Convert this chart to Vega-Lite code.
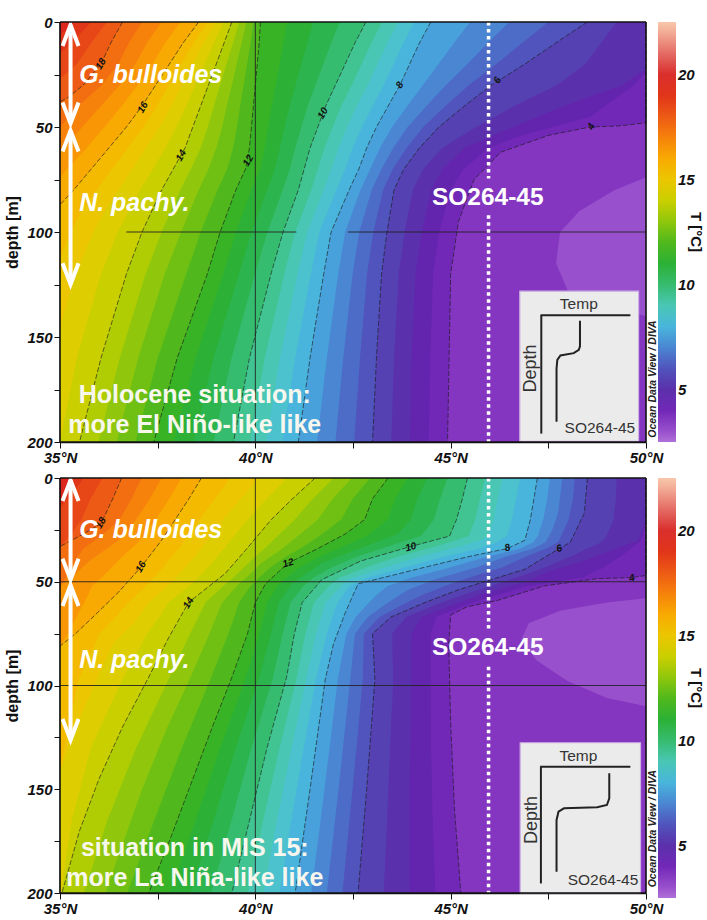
{
"$schema":"https://vega.github.io/schema/vega-lite/v6.json",
"padding":{"left":4,"top":15,"right":0,"bottom":0},
"spacing":6,
"background":"white",
"config":{"font":"Liberation Sans","view":{"stroke":null},
"axis":{"domainColor":"#111","domainWidth":1.5,"tickColor":"#111","tickSize":6,"labelFontSize":15,"labelFontWeight":"bold","labelFontStyle":"italic","labelColor":"#111","titleFontSize":16,"titleFontWeight":"bold","titleColor":"#111","grid":false,"labelPadding":2,"titlePadding":6},
"legend":{"type":"gradient","direction":"vertical","orient":"right","offset":10,"padding":0,"gradientLength":420,"gradientThickness":18,"gradientStrokeWidth":0,"titleOrient":"right","titleAngle":270,"titleAnchor":"middle","titlePadding":-7,"titleFontSize":15,"titleFontWeight":"bold","titleColor":"#111","labelFontSize":15,"labelFontWeight":"bold","labelFontStyle":"italic","labelColor":"#111","labelOffset":4,"labelOverlap":false}},
"resolve":{"scale":{"color":"independent"},"legend":{"color":"independent"}},
"datasets":{
"isoH":[
{"T":3,"d":0,"x":50},{"T":3,"d":200,"x":50},
{"T":3.5,"d":0,"x":50},{"T":3.5,"d":74,"x":50},{"T":3.5,"d":80,"x":49.2},{"T":3.5,"d":90,"x":48.3},{"T":3.5,"d":100,"x":47.8},{"T":3.5,"d":115,"x":47.7},{"T":3.5,"d":128,"x":48},{"T":3.5,"d":135,"x":48.8},{"T":3.5,"d":140,"x":50},{"T":3.5,"d":200,"x":50},
{"T":4,"d":0,"x":50},{"T":4,"d":48,"x":50},{"T":4,"d":49.5,"x":49.3},{"T":4,"d":50,"x":48.57},{"T":4,"d":54,"x":47.5},{"T":4,"d":62,"x":46.28},{"T":4,"d":75,"x":45.6},{"T":4,"d":95,"x":45.2},{"T":4,"d":120,"x":45},{"T":4,"d":200,"x":44.92},
{"T":4.5,"d":0,"x":50},{"T":4.5,"d":24,"x":50},{"T":4.5,"d":30,"x":49.7},{"T":4.5,"d":40,"x":48.95},{"T":4.5,"d":45,"x":48.6},{"T":4.5,"d":50,"x":47.6},{"T":4.5,"d":55,"x":46.66},{"T":4.5,"d":60,"x":45.97},{"T":4.5,"d":70,"x":45.33},{"T":4.5,"d":80,"x":45},{"T":4.5,"d":100,"x":44.71},{"T":4.5,"d":120,"x":44.55},{"T":4.5,"d":160,"x":44.48},{"T":4.5,"d":200,"x":44.44},
{"T":5,"d":0,"x":50},{"T":5,"d":22,"x":50},{"T":5,"d":30,"x":49.4},{"T":5,"d":40,"x":47.9},{"T":5,"d":50,"x":46.6},{"T":5,"d":60,"x":45.35},{"T":5,"d":70,"x":44.8},{"T":5,"d":80,"x":44.5},{"T":5,"d":100,"x":44.26},{"T":5,"d":120,"x":44.1},{"T":5,"d":160,"x":44},{"T":5,"d":200,"x":43.96},
{"T":5.5,"d":0,"x":49.25},{"T":5.5,"d":10,"x":48.85},{"T":5.5,"d":20,"x":48.45},{"T":5.5,"d":30,"x":47.73},{"T":5.5,"d":40,"x":46.63},{"T":5.5,"d":50,"x":45.65},{"T":5.5,"d":60,"x":44.78},{"T":5.5,"d":70,"x":44.3},{"T":5.5,"d":80,"x":44.03},{"T":5.5,"d":100,"x":43.82},{"T":5.5,"d":120,"x":43.67},{"T":5.5,"d":160,"x":43.55},{"T":5.5,"d":200,"x":43.48},
{"T":6,"d":0,"x":48.5},{"T":6,"d":7,"x":47.93},{"T":6,"d":20,"x":46.9},{"T":6,"d":30,"x":46.05},{"T":6,"d":40,"x":45.35},{"T":6,"d":50,"x":44.7},{"T":6,"d":60,"x":44.2},{"T":6,"d":70,"x":43.8},{"T":6,"d":80,"x":43.55},{"T":6,"d":100,"x":43.37},{"T":6,"d":120,"x":43.23},{"T":6,"d":160,"x":43.1},{"T":6,"d":200,"x":43},
{"T":6.5,"d":0,"x":47.5},{"T":6.5,"d":10,"x":46.83},{"T":6.5,"d":20,"x":46.17},{"T":6.5,"d":30,"x":45.47},{"T":6.5,"d":40,"x":44.87},{"T":6.5,"d":50,"x":44.3},{"T":6.5,"d":60,"x":43.87},{"T":6.5,"d":70,"x":43.52},{"T":6.5,"d":80,"x":43.27},{"T":6.5,"d":100,"x":43.02},{"T":6.5,"d":120,"x":42.86},{"T":6.5,"d":160,"x":42.68},{"T":6.5,"d":200,"x":42.53},
{"T":7,"d":0,"x":46.5},{"T":7,"d":10,"x":45.95},{"T":7,"d":20,"x":45.43},{"T":7,"d":30,"x":44.88},{"T":7,"d":40,"x":44.38},{"T":7,"d":50,"x":43.9},{"T":7,"d":60,"x":43.53},{"T":7,"d":70,"x":43.23},{"T":7,"d":80,"x":42.98},{"T":7,"d":100,"x":42.66},{"T":7,"d":120,"x":42.49},{"T":7,"d":160,"x":42.25},{"T":7,"d":200,"x":42.05},
{"T":7.5,"d":0,"x":45.5},{"T":7.5,"d":10,"x":45.08},{"T":7.5,"d":20,"x":44.69},{"T":7.5,"d":30,"x":44.29},{"T":7.5,"d":40,"x":43.89},{"T":7.5,"d":50,"x":43.5},{"T":7.5,"d":60,"x":43.19},{"T":7.5,"d":70,"x":42.94},{"T":7.5,"d":80,"x":42.69},{"T":7.5,"d":100,"x":42.3},{"T":7.5,"d":120,"x":42.12},{"T":7.5,"d":160,"x":41.83},{"T":7.5,"d":200,"x":41.58},
{"T":8,"d":0,"x":44.49},{"T":8,"d":10,"x":44.2},{"T":8,"d":20,"x":43.95},{"T":8,"d":30,"x":43.7},{"T":8,"d":40,"x":43.4},{"T":8,"d":50,"x":43.1},{"T":8,"d":60,"x":42.85},{"T":8,"d":70,"x":42.65},{"T":8,"d":80,"x":42.4},{"T":8,"d":100,"x":41.94},{"T":8,"d":120,"x":41.75},{"T":8,"d":160,"x":41.4},{"T":8,"d":200,"x":41.1},
{"T":8.5,"d":0,"x":44.08},{"T":8.5,"d":10,"x":43.79},{"T":8.5,"d":20,"x":43.54},{"T":8.5,"d":30,"x":43.29},{"T":8.5,"d":40,"x":43},{"T":8.5,"d":50,"x":42.73},{"T":8.5,"d":60,"x":42.49},{"T":8.5,"d":70,"x":42.3},{"T":8.5,"d":80,"x":42.08},{"T":8.5,"d":100,"x":41.64},{"T":8.5,"d":120,"x":41.42},{"T":8.5,"d":160,"x":41.02},{"T":8.5,"d":200,"x":40.69},
{"T":9,"d":0,"x":43.66},{"T":9,"d":10,"x":43.38},{"T":9,"d":20,"x":43.13},{"T":9,"d":30,"x":42.88},{"T":9,"d":40,"x":42.6},{"T":9,"d":50,"x":42.35},{"T":9,"d":60,"x":42.13},{"T":9,"d":70,"x":41.95},{"T":9,"d":80,"x":41.75},{"T":9,"d":100,"x":41.33},{"T":9,"d":120,"x":41.08},{"T":9,"d":160,"x":40.63},{"T":9,"d":200,"x":40.27},
{"T":9.5,"d":0,"x":43.25},{"T":9.5,"d":10,"x":42.97},{"T":9.5,"d":20,"x":42.72},{"T":9.5,"d":30,"x":42.47},{"T":9.5,"d":40,"x":42.2},{"T":9.5,"d":50,"x":41.98},{"T":9.5,"d":60,"x":41.77},{"T":9.5,"d":70,"x":41.6},{"T":9.5,"d":80,"x":41.43},{"T":9.5,"d":100,"x":41.02},{"T":9.5,"d":120,"x":40.74},{"T":9.5,"d":160,"x":40.24},{"T":9.5,"d":200,"x":39.86},
{"T":10,"d":0,"x":42.83},{"T":10,"d":10,"x":42.55},{"T":10,"d":20,"x":42.3},{"T":10,"d":30,"x":42.05},{"T":10,"d":40,"x":41.8},{"T":10,"d":50,"x":41.6},{"T":10,"d":60,"x":41.4},{"T":10,"d":70,"x":41.25},{"T":10,"d":80,"x":41.1},{"T":10,"d":100,"x":40.71},{"T":10,"d":120,"x":40.4},{"T":10,"d":160,"x":39.85},{"T":10,"d":200,"x":39.44},
{"T":10.5,"d":0,"x":42.16},{"T":10.5,"d":10,"x":41.94},{"T":10.5,"d":20,"x":41.74},{"T":10.5,"d":30,"x":41.54},{"T":10.5,"d":40,"x":41.34},{"T":10.5,"d":50,"x":41.18},{"T":10.5,"d":60,"x":41.02},{"T":10.5,"d":70,"x":40.88},{"T":10.5,"d":80,"x":40.7},{"T":10.5,"d":100,"x":40.31},{"T":10.5,"d":120,"x":39.99},{"T":10.5,"d":160,"x":39.39},{"T":10.5,"d":200,"x":38.93},
{"T":11,"d":0,"x":41.48},{"T":11,"d":10,"x":41.33},{"T":11,"d":20,"x":41.18},{"T":11,"d":30,"x":41.03},{"T":11,"d":40,"x":40.88},{"T":11,"d":50,"x":40.75},{"T":11,"d":60,"x":40.63},{"T":11,"d":70,"x":40.5},{"T":11,"d":80,"x":40.3},{"T":11,"d":100,"x":39.9},{"T":11,"d":120,"x":39.58},{"T":11,"d":160,"x":38.93},{"T":11,"d":200,"x":38.42},
{"T":11.5,"d":0,"x":40.81},{"T":11.5,"d":10,"x":40.72},{"T":11.5,"d":20,"x":40.62},{"T":11.5,"d":30,"x":40.52},{"T":11.5,"d":40,"x":40.42},{"T":11.5,"d":50,"x":40.33},{"T":11.5,"d":60,"x":40.24},{"T":11.5,"d":70,"x":40.13},{"T":11.5,"d":80,"x":39.9},{"T":11.5,"d":100,"x":39.5},{"T":11.5,"d":120,"x":39.18},{"T":11.5,"d":160,"x":38.47},{"T":11.5,"d":200,"x":37.91},
{"T":12,"d":0,"x":40.13},{"T":12,"d":10,"x":40.1},{"T":12,"d":20,"x":40.05},{"T":12,"d":30,"x":40},{"T":12,"d":40,"x":39.95},{"T":12,"d":50,"x":39.9},{"T":12,"d":60,"x":39.85},{"T":12,"d":70,"x":39.75},{"T":12,"d":80,"x":39.5},{"T":12,"d":100,"x":39.1},{"T":12,"d":120,"x":38.77},{"T":12,"d":160,"x":38},{"T":12,"d":200,"x":37.4},
{"T":12.5,"d":0,"x":39.95},{"T":12.5,"d":10,"x":39.88},{"T":12.5,"d":20,"x":39.79},{"T":12.5,"d":30,"x":39.7},{"T":12.5,"d":40,"x":39.61},{"T":12.5,"d":50,"x":39.53},{"T":12.5,"d":60,"x":39.43},{"T":12.5,"d":70,"x":39.28},{"T":12.5,"d":80,"x":39.03},{"T":12.5,"d":100,"x":38.6},{"T":12.5,"d":120,"x":38.23},{"T":12.5,"d":160,"x":37.5},{"T":12.5,"d":200,"x":36.93},
{"T":13,"d":0,"x":39.77},{"T":13,"d":10,"x":39.65},{"T":13,"d":20,"x":39.52},{"T":13,"d":30,"x":39.4},{"T":13,"d":40,"x":39.27},{"T":13,"d":50,"x":39.15},{"T":13,"d":60,"x":39},{"T":13,"d":70,"x":38.8},{"T":13,"d":80,"x":38.55},{"T":13,"d":100,"x":38.1},{"T":13,"d":120,"x":37.68},{"T":13,"d":160,"x":37},{"T":13,"d":200,"x":36.45},
{"T":13.5,"d":0,"x":39.59},{"T":13.5,"d":10,"x":39.43},{"T":13.5,"d":20,"x":39.26},{"T":13.5,"d":30,"x":39.1},{"T":13.5,"d":40,"x":38.94},{"T":13.5,"d":50,"x":38.78},{"T":13.5,"d":60,"x":38.6},{"T":13.5,"d":70,"x":38.35},{"T":13.5,"d":80,"x":38.08},{"T":13.5,"d":100,"x":37.6},{"T":13.5,"d":120,"x":37.19},{"T":13.5,"d":160,"x":36.53},{"T":13.5,"d":200,"x":35.98},
{"T":14,"d":0,"x":39.4},{"T":14,"d":10,"x":39.2},{"T":14,"d":20,"x":39},{"T":14,"d":30,"x":38.8},{"T":14,"d":40,"x":38.6},{"T":14,"d":50,"x":38.4},{"T":14,"d":60,"x":38.2},{"T":14,"d":70,"x":37.9},{"T":14,"d":80,"x":37.6},{"T":14,"d":100,"x":37.1},{"T":14,"d":120,"x":36.7},{"T":14,"d":160,"x":36.05},{"T":14,"d":200,"x":35.5},
{"T":14.5,"d":0,"x":39.19},{"T":14.5,"d":10,"x":38.94},{"T":14.5,"d":20,"x":38.7},{"T":14.5,"d":30,"x":38.46},{"T":14.5,"d":40,"x":38.23},{"T":14.5,"d":50,"x":37.98},{"T":14.5,"d":60,"x":37.7},{"T":14.5,"d":70,"x":37.38},{"T":14.5,"d":80,"x":37.05},{"T":14.5,"d":100,"x":36.48},{"T":14.5,"d":120,"x":36.05},{"T":14.5,"d":160,"x":35.43},{"T":14.5,"d":200,"x":35},
{"T":15,"d":0,"x":38.98},{"T":15,"d":10,"x":38.68},{"T":15,"d":20,"x":38.4},{"T":15,"d":30,"x":38.12},{"T":15,"d":40,"x":37.85},{"T":15,"d":50,"x":37.55},{"T":15,"d":60,"x":37.2},{"T":15,"d":70,"x":36.85},{"T":15,"d":80,"x":36.5},{"T":15,"d":90,"x":36.15},{"T":15,"d":100,"x":35.85},{"T":15,"d":120,"x":35.4},{"T":15,"d":145,"x":35},
{"T":15.5,"d":0,"x":38.77},{"T":15.5,"d":10,"x":38.42},{"T":15.5,"d":20,"x":38.1},{"T":15.5,"d":30,"x":37.79},{"T":15.5,"d":40,"x":37.48},{"T":15.5,"d":50,"x":37.13},{"T":15.5,"d":60,"x":36.73},{"T":15.5,"d":70,"x":36.33},{"T":15.5,"d":80,"x":35.93},{"T":15.5,"d":90,"x":35.55},{"T":15.5,"d":100,"x":35.28},{"T":15.5,"d":112,"x":35},
{"T":16,"d":0,"x":38.55},{"T":16,"d":10,"x":38.15},{"T":16,"d":20,"x":37.8},{"T":16,"d":30,"x":37.45},{"T":16,"d":40,"x":37.1},{"T":16,"d":50,"x":36.7},{"T":16,"d":60,"x":36.25},{"T":16,"d":70,"x":35.8},{"T":16,"d":80,"x":35.35},{"T":16,"d":87,"x":35},
{"T":16.5,"d":0,"x":38.08},{"T":16.5,"d":10,"x":37.69},{"T":16.5,"d":20,"x":37.37},{"T":16.5,"d":30,"x":36.99},{"T":16.5,"d":40,"x":36.58},{"T":16.5,"d":50,"x":36.14},{"T":16.5,"d":60,"x":35.68},{"T":16.5,"d":70,"x":35.18},{"T":16.5,"d":74,"x":35},
{"T":17,"d":0,"x":37.6},{"T":17,"d":10,"x":37.22},{"T":17,"d":20,"x":36.93},{"T":17,"d":30,"x":36.53},{"T":17,"d":40,"x":36.05},{"T":17,"d":50,"x":35.57},{"T":17,"d":60,"x":35.1},{"T":17,"d":62,"x":35},
{"T":17.5,"d":0,"x":37.1},{"T":17.5,"d":10,"x":36.76},{"T":17.5,"d":20,"x":36.49},{"T":17.5,"d":30,"x":36.07},{"T":17.5,"d":40,"x":35.47},{"T":17.5,"d":50,"x":35},
{"T":18,"d":0,"x":36.6},{"T":18,"d":10,"x":36.3},{"T":18,"d":20,"x":36.05},{"T":18,"d":30,"x":35.6},{"T":18,"d":36,"x":35.2},{"T":18,"d":38,"x":35},
{"T":18.5,"d":0,"x":36.2},{"T":18.5,"d":10,"x":35.8},{"T":18.5,"d":20,"x":35.43},{"T":18.5,"d":27,"x":35},
{"T":19,"d":0,"x":35.8},{"T":19,"d":8,"x":35.4},{"T":19,"d":15,"x":35},
{"T":19.5,"d":0,"x":35.4},{"T":19.5,"d":6,"x":35}
],
"isoM":[
{"T":3,"d":0,"x":50},{"T":3,"d":200,"x":50},
{"T":3.5,"d":0,"x":50},{"T":3.5,"d":58,"x":50},{"T":3.5,"d":60,"x":49},{"T":3.5,"d":64,"x":47.8},{"T":3.5,"d":70,"x":47},{"T":3.5,"d":78,"x":46.8},{"T":3.5,"d":88,"x":47.2},{"T":3.5,"d":98,"x":48},{"T":3.5,"d":106,"x":49},{"T":3.5,"d":110,"x":50},{"T":3.5,"d":200,"x":50},
{"T":4,"d":0,"x":50},{"T":4,"d":47,"x":50},{"T":4,"d":48,"x":49.6},{"T":4,"d":48.5,"x":48.75},{"T":4,"d":52,"x":47.4},{"T":4,"d":59,"x":46.2},{"T":4,"d":62,"x":45.43},{"T":4,"d":66,"x":45},{"T":4,"d":80,"x":44.95},{"T":4,"d":118,"x":45},{"T":4,"d":160,"x":45.1},{"T":4,"d":200,"x":45.26},
{"T":4.5,"d":0,"x":50},{"T":4.5,"d":20,"x":50},{"T":4.5,"d":28,"x":49.92},{"T":4.5,"d":31,"x":49.83},{"T":4.5,"d":34,"x":49.62},{"T":4.5,"d":38,"x":49.34},{"T":4.5,"d":43,"x":48.93},{"T":4.5,"d":48,"x":48.39},{"T":4.5,"d":52,"x":46.98},{"T":4.5,"d":56,"x":46.26},{"T":4.5,"d":60,"x":45.57},{"T":4.5,"d":67,"x":44.63},{"T":4.5,"d":75,"x":44.49},{"T":4.5,"d":97,"x":44.49},{"T":4.5,"d":130,"x":44.5},{"T":4.5,"d":165,"x":44.54},{"T":4.5,"d":200,"x":44.61},
{"T":5,"d":0,"x":50},{"T":5,"d":20,"x":50},{"T":5,"d":30,"x":49.8},{"T":5,"d":40,"x":48.4},{"T":5,"d":45,"x":47.5},{"T":5,"d":50,"x":46.95},{"T":5,"d":55,"x":45.95},{"T":5,"d":60,"x":45.2},{"T":5,"d":67,"x":44.25},{"T":5,"d":75,"x":44},{"T":5,"d":97,"x":44},{"T":5,"d":150,"x":43.95},{"T":5,"d":200,"x":43.95},
{"T":5.5,"d":0,"x":49.25},{"T":5.5,"d":10,"x":49.23},{"T":5.5,"d":20,"x":49.17},{"T":5.5,"d":28,"x":48.99},{"T":5.5,"d":31,"x":48.86},{"T":5.5,"d":34,"x":48.51},{"T":5.5,"d":38,"x":48.06},{"T":5.5,"d":43,"x":47.43},{"T":5.5,"d":48,"x":46.69},{"T":5.5,"d":52,"x":46.04},{"T":5.5,"d":56,"x":45.35},{"T":5.5,"d":60,"x":44.77},{"T":5.5,"d":67,"x":43.86},{"T":5.5,"d":75,"x":43.5},{"T":5.5,"d":97,"x":43.53},{"T":5.5,"d":130,"x":43.45},{"T":5.5,"d":165,"x":43.37},{"T":5.5,"d":200,"x":43.29},
{"T":6,"d":0,"x":48.5},{"T":6,"d":17,"x":48.42},{"T":6,"d":31,"x":48.06},{"T":6,"d":34,"x":47.78},{"T":6,"d":44,"x":46.9},{"T":6,"d":49,"x":46.03},{"T":6,"d":54,"x":45.18},{"T":6,"d":60,"x":44.34},{"T":6,"d":67,"x":43.47},{"T":6,"d":75,"x":43},{"T":6,"d":97,"x":43.06},{"T":6,"d":150,"x":42.85},{"T":6,"d":200,"x":42.63},
{"T":6.5,"d":0,"x":48.18},{"T":6.5,"d":10,"x":48.13},{"T":6.5,"d":20,"x":48.02},{"T":6.5,"d":28,"x":47.83},{"T":6.5,"d":31,"x":47.75},{"T":6.5,"d":34,"x":47.45},{"T":6.5,"d":38,"x":46.92},{"T":6.5,"d":43,"x":46.33},{"T":6.5,"d":48,"x":45.48},{"T":6.5,"d":52,"x":44.85},{"T":6.5,"d":56,"x":44.32},{"T":6.5,"d":60,"x":43.87},{"T":6.5,"d":67,"x":43.18},{"T":6.5,"d":75,"x":42.78},{"T":6.5,"d":97,"x":42.75},{"T":6.5,"d":130,"x":42.59},{"T":6.5,"d":165,"x":42.41},{"T":6.5,"d":200,"x":42.23},
{"T":7,"d":0,"x":47.86},{"T":7,"d":17,"x":47.75},{"T":7,"d":25,"x":47.6},{"T":7,"d":31,"x":47.43},{"T":7,"d":34,"x":47.12},{"T":7,"d":38,"x":46.4},{"T":7,"d":43,"x":45.67},{"T":7,"d":49,"x":44.57},{"T":7,"d":54,"x":43.9},{"T":7,"d":60,"x":43.4},{"T":7,"d":67,"x":42.88},{"T":7,"d":75,"x":42.55},{"T":7,"d":97,"x":42.43},{"T":7,"d":150,"x":42.13},{"T":7,"d":200,"x":41.83},
{"T":7.5,"d":0,"x":47.54},{"T":7.5,"d":10,"x":47.47},{"T":7.5,"d":20,"x":47.37},{"T":7.5,"d":28,"x":47.23},{"T":7.5,"d":31,"x":47.11},{"T":7.5,"d":34,"x":46.79},{"T":7.5,"d":38,"x":45.92},{"T":7.5,"d":43,"x":45.01},{"T":7.5,"d":48,"x":44.01},{"T":7.5,"d":52,"x":43.39},{"T":7.5,"d":56,"x":43.12},{"T":7.5,"d":60,"x":42.91},{"T":7.5,"d":67,"x":42.57},{"T":7.5,"d":75,"x":42.33},{"T":7.5,"d":97,"x":42.11},{"T":7.5,"d":130,"x":41.9},{"T":7.5,"d":165,"x":41.67},{"T":7.5,"d":200,"x":41.43},
{"T":8,"d":0,"x":47.22},{"T":8,"d":20,"x":47.04},{"T":8,"d":30,"x":46.9},{"T":8,"d":34,"x":46.45},{"T":8,"d":38,"x":45.43},{"T":8,"d":43,"x":44.34},{"T":8,"d":51,"x":42.63},{"T":8,"d":65,"x":42.3},{"T":8,"d":80,"x":42},{"T":8,"d":97,"x":41.79},{"T":8,"d":150,"x":41.4},{"T":8,"d":200,"x":41.02},
{"T":8.5,"d":0,"x":46.78},{"T":8.5,"d":10,"x":46.67},{"T":8.5,"d":20,"x":46.57},{"T":8.5,"d":28,"x":46.44},{"T":8.5,"d":31,"x":46.19},{"T":8.5,"d":34,"x":45.74},{"T":8.5,"d":38,"x":44.82},{"T":8.5,"d":43,"x":43.83},{"T":8.5,"d":48,"x":42.89},{"T":8.5,"d":52,"x":42.41},{"T":8.5,"d":56,"x":42.26},{"T":8.5,"d":60,"x":42.11},{"T":8.5,"d":67,"x":41.97},{"T":8.5,"d":75,"x":41.83},{"T":8.5,"d":97,"x":41.55},{"T":8.5,"d":130,"x":41.24},{"T":8.5,"d":165,"x":40.92},{"T":8.5,"d":200,"x":40.62},
{"T":9,"d":0,"x":46.33},{"T":9,"d":10,"x":46.2},{"T":9,"d":20,"x":46.1},{"T":9,"d":28,"x":45.95},{"T":9,"d":30,"x":45.75},{"T":9,"d":33,"x":45.24},{"T":9,"d":38,"x":44.2},{"T":9,"d":43,"x":43.32},{"T":9,"d":49,"x":42.35},{"T":9,"d":60,"x":41.8},{"T":9,"d":75,"x":41.55},{"T":9,"d":97,"x":41.3},{"T":9,"d":130,"x":40.93},{"T":9,"d":165,"x":40.55},{"T":9,"d":200,"x":40.21},
{"T":9.5,"d":0,"x":45.88},{"T":9.5,"d":10,"x":45.75},{"T":9.5,"d":20,"x":45.63},{"T":9.5,"d":28,"x":45.46},{"T":9.5,"d":31,"x":44.98},{"T":9.5,"d":34,"x":44.42},{"T":9.5,"d":38,"x":43.64},{"T":9.5,"d":43,"x":42.85},{"T":9.5,"d":48,"x":42.16},{"T":9.5,"d":52,"x":41.88},{"T":9.5,"d":56,"x":41.69},{"T":9.5,"d":60,"x":41.5},{"T":9.5,"d":67,"x":41.4},{"T":9.5,"d":75,"x":41.28},{"T":9.5,"d":97,"x":41.05},{"T":9.5,"d":130,"x":40.62},{"T":9.5,"d":165,"x":40.2},{"T":9.5,"d":200,"x":39.81},
{"T":10,"d":0,"x":45.43},{"T":10,"d":10,"x":45.3},{"T":10,"d":20,"x":45.15},{"T":10,"d":28,"x":44.97},{"T":10,"d":33,"x":43.98},{"T":10,"d":40,"x":42.7},{"T":10,"d":49,"x":41.7},{"T":10,"d":60,"x":41.2},{"T":10,"d":75,"x":41},{"T":10,"d":96,"x":40.8},{"T":10,"d":130,"x":40.3},{"T":10,"d":165,"x":39.85},{"T":10,"d":200,"x":39.4},
{"T":10.5,"d":0,"x":44.92},{"T":10.5,"d":10,"x":44.73},{"T":10.5,"d":20,"x":44.57},{"T":10.5,"d":28,"x":44.24},{"T":10.5,"d":31,"x":43.73},{"T":10.5,"d":34,"x":43.23},{"T":10.5,"d":38,"x":42.59},{"T":10.5,"d":43,"x":41.96},{"T":10.5,"d":48,"x":41.49},{"T":10.5,"d":52,"x":41.23},{"T":10.5,"d":56,"x":41.07},{"T":10.5,"d":60,"x":40.9},{"T":10.5,"d":67,"x":40.81},{"T":10.5,"d":75,"x":40.7},{"T":10.5,"d":97,"x":40.44},{"T":10.5,"d":130,"x":39.9},{"T":10.5,"d":165,"x":39.39},{"T":10.5,"d":200,"x":38.87},
{"T":11,"d":0,"x":44.4},{"T":11,"d":10,"x":44.15},{"T":11,"d":20,"x":43.98},{"T":11,"d":27,"x":43.65},{"T":11,"d":33,"x":42.8},{"T":11,"d":41,"x":41.7},{"T":11,"d":51,"x":40.93},{"T":11,"d":60,"x":40.6},{"T":11,"d":75,"x":40.4},{"T":11,"d":96,"x":40.1},{"T":11,"d":130,"x":39.5},{"T":11,"d":165,"x":38.93},{"T":11,"d":200,"x":38.33},
{"T":11.5,"d":0,"x":43.9},{"T":11.5,"d":10,"x":43.58},{"T":11.5,"d":20,"x":43.39},{"T":11.5,"d":28,"x":42.86},{"T":11.5,"d":31,"x":42.49},{"T":11.5,"d":34,"x":42.13},{"T":11.5,"d":38,"x":41.64},{"T":11.5,"d":43,"x":41.14},{"T":11.5,"d":48,"x":40.8},{"T":11.5,"d":52,"x":40.56},{"T":11.5,"d":56,"x":40.44},{"T":11.5,"d":60,"x":40.3},{"T":11.5,"d":67,"x":40.21},{"T":11.5,"d":75,"x":40.1},{"T":11.5,"d":97,"x":39.74},{"T":11.5,"d":130,"x":39.1},{"T":11.5,"d":165,"x":38.47},{"T":11.5,"d":200,"x":37.8},
{"T":12,"d":0,"x":43.4},{"T":12,"d":10,"x":43},{"T":12,"d":20,"x":42.8},{"T":12,"d":27,"x":42.3},{"T":12,"d":34,"x":41.6},{"T":12,"d":41,"x":40.84},{"T":12,"d":51,"x":40.26},{"T":12,"d":60,"x":40},{"T":12,"d":75,"x":39.8},{"T":12,"d":96,"x":39.4},{"T":12,"d":120,"x":38.9},{"T":12,"d":150,"x":38.3},{"T":12,"d":175,"x":37.8},{"T":12,"d":200,"x":37.27},
{"T":12.5,"d":0,"x":42.94},{"T":12.5,"d":10,"x":42.49},{"T":12.5,"d":20,"x":42.2},{"T":12.5,"d":28,"x":41.64},{"T":12.5,"d":31,"x":41.4},{"T":12.5,"d":34,"x":41.15},{"T":12.5,"d":38,"x":40.78},{"T":12.5,"d":43,"x":40.39},{"T":12.5,"d":48,"x":40.1},{"T":12.5,"d":52,"x":39.88},{"T":12.5,"d":56,"x":39.73},{"T":12.5,"d":60,"x":39.58},{"T":12.5,"d":67,"x":39.46},{"T":12.5,"d":75,"x":39.31},{"T":12.5,"d":97,"x":38.85},{"T":12.5,"d":130,"x":38.12},{"T":12.5,"d":165,"x":37.41},{"T":12.5,"d":200,"x":36.72},
{"T":13,"d":0,"x":42.47},{"T":13,"d":10,"x":41.98},{"T":13,"d":20,"x":41.6},{"T":13,"d":27,"x":41.15},{"T":13,"d":35,"x":40.62},{"T":13,"d":41,"x":40.15},{"T":13,"d":46,"x":39.89},{"T":13,"d":51,"x":39.58},{"T":13,"d":60,"x":39.15},{"T":13,"d":77,"x":38.78},{"T":13,"d":96,"x":38.34},{"T":13,"d":120,"x":37.75},{"T":13,"d":150,"x":37.1},{"T":13,"d":200,"x":36.16},
{"T":13.5,"d":0,"x":42},{"T":13.5,"d":10,"x":41.47},{"T":13.5,"d":20,"x":41.01},{"T":13.5,"d":28,"x":40.57},{"T":13.5,"d":31,"x":40.41},{"T":13.5,"d":34,"x":40.24},{"T":13.5,"d":38,"x":40},{"T":13.5,"d":43,"x":39.71},{"T":13.5,"d":48,"x":39.44},{"T":13.5,"d":52,"x":39.18},{"T":13.5,"d":56,"x":38.95},{"T":13.5,"d":60,"x":38.72},{"T":13.5,"d":67,"x":38.54},{"T":13.5,"d":75,"x":38.33},{"T":13.5,"d":97,"x":37.78},{"T":13.5,"d":130,"x":36.95},{"T":13.5,"d":165,"x":36.21},{"T":13.5,"d":200,"x":35.61},
{"T":14,"d":0,"x":41.53},{"T":14,"d":10,"x":40.95},{"T":14,"d":20,"x":40.41},{"T":14,"d":35,"x":39.74},{"T":14,"d":46,"x":39.23},{"T":14,"d":60,"x":38.29},{"T":14,"d":77,"x":37.78},{"T":14,"d":96,"x":37.27},{"T":14,"d":120,"x":36.6},{"T":14,"d":145,"x":36},{"T":14,"d":170,"x":35.5},{"T":14,"d":200,"x":35.05},
{"T":14.5,"d":0,"x":40.81},{"T":14.5,"d":10,"x":40.29},{"T":14.5,"d":20,"x":39.8},{"T":14.5,"d":28,"x":39.46},{"T":14.5,"d":31,"x":39.33},{"T":14.5,"d":34,"x":39.2},{"T":14.5,"d":38,"x":39.02},{"T":14.5,"d":43,"x":38.79},{"T":14.5,"d":48,"x":38.54},{"T":14.5,"d":52,"x":38.3},{"T":14.5,"d":56,"x":38.04},{"T":14.5,"d":60,"x":37.78},{"T":14.5,"d":67,"x":37.54},{"T":14.5,"d":75,"x":37.23},{"T":14.5,"d":97,"x":36.6},{"T":14.5,"d":130,"x":35.79},{"T":14.5,"d":165,"x":35.3},{"T":14.5,"d":200,"x":35.03},
{"T":15,"d":0,"x":40.08},{"T":15,"d":10,"x":39.63},{"T":15,"d":20,"x":39.18},{"T":15,"d":30,"x":38.78},{"T":15,"d":40,"x":38.35},{"T":15,"d":50,"x":37.88},{"T":15,"d":60,"x":37.27},{"T":15,"d":70,"x":36.88},{"T":15,"d":80,"x":36.35},{"T":15,"d":96,"x":35.97},{"T":15,"d":120,"x":35.41},{"T":15,"d":141,"x":35},
{"T":15.5,"d":0,"x":39.35},{"T":15.5,"d":10,"x":38.97},{"T":15.5,"d":20,"x":38.57},{"T":15.5,"d":28,"x":38.27},{"T":15.5,"d":31,"x":38.15},{"T":15.5,"d":34,"x":38.03},{"T":15.5,"d":38,"x":37.86},{"T":15.5,"d":43,"x":37.64},{"T":15.5,"d":48,"x":37.4},{"T":15.5,"d":52,"x":37.2},{"T":15.5,"d":56,"x":36.98},{"T":15.5,"d":60,"x":36.75},{"T":15.5,"d":67,"x":36.42},{"T":15.5,"d":75,"x":36.01},{"T":15.5,"d":97,"x":35.48},{"T":15.5,"d":130,"x":35.11},{"T":15.5,"d":141,"x":35},
{"T":16,"d":0,"x":38.62},{"T":16,"d":10,"x":38.3},{"T":16,"d":20,"x":37.95},{"T":16,"d":30,"x":37.6},{"T":16,"d":43,"x":37.07},{"T":16,"d":55,"x":36.5},{"T":16,"d":66,"x":35.9},{"T":16,"d":75,"x":35.4},{"T":16,"d":81,"x":35},
{"T":16.5,"d":0,"x":38.11},{"T":16.5,"d":10,"x":37.8},{"T":16.5,"d":20,"x":37.45},{"T":16.5,"d":28,"x":37.13},{"T":16.5,"d":31,"x":37},{"T":16.5,"d":34,"x":36.82},{"T":16.5,"d":38,"x":36.59},{"T":16.5,"d":43,"x":36.33},{"T":16.5,"d":48,"x":36.07},{"T":16.5,"d":52,"x":35.82},{"T":16.5,"d":56,"x":35.73},{"T":16.5,"d":60,"x":35.62},{"T":16.5,"d":67,"x":35.42},{"T":16.5,"d":75,"x":35.2},{"T":16.5,"d":81,"x":35},
{"T":17,"d":0,"x":37.6},{"T":17,"d":10,"x":37.3},{"T":17,"d":20,"x":36.95},{"T":17,"d":30,"x":36.5},{"T":17,"d":40,"x":35.75},{"T":17,"d":48,"x":35.3},{"T":17,"d":52,"x":35},
{"T":17.5,"d":0,"x":37.09},{"T":17.5,"d":10,"x":36.83},{"T":17.5,"d":20,"x":36.53},{"T":17.5,"d":28,"x":36.05},{"T":17.5,"d":31,"x":35.82},{"T":17.5,"d":34,"x":35.6},{"T":17.5,"d":38,"x":35.45},{"T":17.5,"d":43,"x":35.29},{"T":17.5,"d":48,"x":35.15},{"T":17.5,"d":52,"x":35},
{"T":18,"d":0,"x":36.58},{"T":18,"d":10,"x":36.35},{"T":18,"d":22,"x":36.05},{"T":18,"d":28,"x":35.5},{"T":18,"d":33,"x":35},
{"T":18.5,"d":0,"x":36.09},{"T":18.5,"d":10,"x":35.78},{"T":18.5,"d":20,"x":35.55},{"T":18.5,"d":28,"x":35.25},{"T":18.5,"d":31,"x":35.1},{"T":18.5,"d":33,"x":35},
{"T":19,"d":0,"x":35.6},{"T":19,"d":8,"x":35.3},{"T":19,"d":14,"x":35},
{"T":19.5,"d":0,"x":35.3},{"T":19.5,"d":10,"x":35}
],
"labH":[{"T":18,"x":36.05,"d":20},{"T":16,"x":37.12,"d":40.7},{"T":14,"x":38.1,"d":63.6},{"T":12,"x":39.82,"d":66},{"T":10,"x":41.73,"d":43.5},{"T":8,"x":43.7,"d":30.1},{"T":6,"x":46.2,"d":27.8},{"T":4,"x":48.6,"d":49.8}],
"labM":[{"T":18,"x":36.05,"d":21.7},{"T":16,"x":37.07,"d":42.9},{"T":14,"x":38.29,"d":60.2},{"T":12,"x":40.84,"d":41},{"T":10,"x":43.98,"d":33.3},{"T":8,"x":46.45,"d":33.7},{"T":6,"x":47.78,"d":34},{"T":4,"x":49.64,"d":48.3}],
"ann":[
{"p":"H","k":"g","x":40,"x2":40,"d":0,"d2":200},{"p":"H","k":"g","x":36.7,"x2":41.05,"d":100,"d2":100},{"p":"H","k":"g","x":42.37,"x2":50,"d":100,"d2":100},
{"p":"H","k":"w","x":45.97,"x2":45.97,"d":0,"d2":74.5},{"p":"H","k":"w","x":45.97,"x2":45.97,"d":92,"d2":200},
{"p":"H","k":"a","x":35.27,"x2":35.27,"d":1.4,"d2":48.3},{"p":"H","k":"a","x":35.27,"x2":35.27,"d":51.7,"d2":124.9},
{"p":"H","k":"h","x":35.27,"d":1.4,"s":"up"},{"p":"H","k":"h","x":35.27,"d":48.3,"s":"down"},{"p":"H","k":"h","x":35.27,"d":51.7,"s":"up"},{"p":"H","k":"h","x":35.27,"d":124.9,"s":"down"},
{"p":"H","k":"b","x":46.77,"x2":49.81,"d":128.2,"d2":199.7},
{"p":"H","k":"ia","x":47.3,"x2":49.6,"d":139.7,"d2":139.7},{"p":"H","k":"ia","x":47.32,"x2":47.32,"d":139.7,"d2":196},
{"p":"H","k":"pr","x":48.31,"d":142.3},{"p":"H","k":"pr","x":48.31,"d":154.5},{"p":"H","k":"pr","x":48.28,"d":156.1},{"p":"H","k":"pr","x":48.15,"d":157.7},{"p":"H","k":"pr","x":47.81,"d":158.8},{"p":"H","k":"pr","x":47.73,"d":160.9},{"p":"H","k":"pr","x":47.71,"d":165},{"p":"H","k":"pr","x":47.71,"d":190.4},
{"p":"H","k":"it","x":48.28,"d":134.4,"s":"Temp"},{"p":"H","k":"it","x":48.82,"d":193.4,"s":"SO264-45"},
{"p":"H","k":"id","x":47.05,"d":165,"s":"Depth"},
{"p":"H","k":"sp","x":35.49,"d":25.4,"s":"G. bulloides"},{"p":"H","k":"sp","x":35.49,"d":86,"s":"N. pachy."},
{"p":"H","k":"so","x":45.95,"d":84,"s":"SO264-45"},
{"p":"H","k":"si","x":38.45,"d":177.5,"s":"Holocene situation:"},{"p":"H","k":"si","x":38.45,"d":191.9,"s":"more El Niño-like like"},
{"p":"H","k":"dv","x":50,"d":170,"s":"Ocean Data View / DIVA"},
{"p":"H","k":"f","x":35,"x2":50,"d":0,"d2":0},{"p":"H","k":"f","x":35,"x2":50,"d":200,"d2":200},{"p":"H","k":"f","x":35,"x2":35,"d":0,"d2":200},{"p":"H","k":"f","x":50,"x2":50,"d":0,"d2":200},
{"p":"M","k":"g","x":40,"x2":40,"d":0,"d2":200},{"p":"M","k":"g","x":35,"x2":50,"d":50,"d2":50},{"p":"M","k":"g","x":35,"x2":50,"d":100,"d2":100},
{"p":"M","k":"w","x":45.97,"x2":45.97,"d":0,"d2":73},{"p":"M","k":"w","x":45.97,"x2":45.97,"d":91,"d2":200},
{"p":"M","k":"a","x":35.27,"x2":35.27,"d":1,"d2":49},{"p":"M","k":"a","x":35.27,"x2":35.27,"d":51.6,"d2":126.3},
{"p":"M","k":"h","x":35.27,"d":1,"s":"up"},{"p":"M","k":"h","x":35.27,"d":49,"s":"down"},{"p":"M","k":"h","x":35.27,"d":51.6,"s":"up"},{"p":"M","k":"h","x":35.27,"d":126.3,"s":"down"},
{"p":"M","k":"b","x":46.78,"x2":49.86,"d":127.6,"d2":200},
{"p":"M","k":"ia","x":47.29,"x2":49.6,"d":139.1,"d2":139.1},{"p":"M","k":"ia","x":47.31,"x2":47.31,"d":139.1,"d2":195.4},
{"p":"M","k":"pr","x":49.06,"d":142.3},{"p":"M","k":"pr","x":49.06,"d":154.4},{"p":"M","k":"pr","x":49,"d":157.6},{"p":"M","k":"pr","x":48.75,"d":158.7},{"p":"M","k":"pr","x":47.9,"d":159.2},{"p":"M","k":"pr","x":47.76,"d":160.8},{"p":"M","k":"pr","x":47.71,"d":164.8},{"p":"M","k":"pr","x":47.71,"d":189.8},
{"p":"M","k":"it","x":48.27,"d":134,"s":"Temp"},{"p":"M","k":"it","x":48.9,"d":193.8,"s":"SO264-45"},
{"p":"M","k":"id","x":47.09,"d":164.8,"s":"Depth"},
{"p":"M","k":"sp","x":35.49,"d":25,"s":"G. bulloides"},{"p":"M","k":"sp","x":35.49,"d":87.7,"s":"N. pachy."},
{"p":"M","k":"so","x":45.95,"d":82,"s":"SO264-45"},
{"p":"M","k":"si","x":38.45,"d":178.3,"s":"situation in MIS 15:"},{"p":"M","k":"si","x":38.45,"d":192.8,"s":"more La Niña-like like"},
{"p":"M","k":"dv","x":50,"d":169,"s":"Ocean Data View / DIVA"},
{"p":"M","k":"f","x":35,"x2":50,"d":0,"d2":0},{"p":"M","k":"f","x":35,"x2":50,"d":200,"d2":200},{"p":"M","k":"f","x":35,"x2":35,"d":0,"d2":200},{"p":"M","k":"f","x":50,"x2":50,"d":0,"d2":200}
]
},
"vconcat":[
{
"width":586,"height":420,
"encoding":{
"x":{"field":"x","type":"quantitative","scale":{"domain":[35,50],"nice":false,"zero":false},"axis":{"values":[35,37.5,40,42.5,45,47.5,50],"labelExpr":"datum.value % 5 == 0 ? datum.value + '°N' : ''","title":null,"labelFlush":false,"labelOverlap":false}},
"y":{"field":"d","type":"quantitative","scale":{"domain":[0,200],"reverse":true,"nice":false,"zero":false},"axis":{"values":[0,25,50,75,100,125,150,175,200],"labelExpr":"datum.value % 50 == 0 ? datum.label : ''","title":"depth [m]","labelOverlap":false}}
},
"layer":[
{"data":{"name":"isoH"},"transform":[{"filter":"datum.T < 4"}],"mark":{"type":"area","orient":"horizontal","opacity":1},"encoding":{"x2":{"datum":35},"color":{"field":"T","type":"quantitative","scale":{"domain":[2.5,3.25,3.75,4.25,4.75,5.25,5.75,6.25,6.75,7.25,7.75,8.25,8.75,9.25,9.75,10.25,10.75,11.25,11.75,12.75,13.75,14.75,15.75,16.75,17.75,18.75,19.75,20.75,21.75,22.5],"range":["#b070d8","#8e40c6","#7a2cbc","#6a24b2","#5e26aa","#583aae","#5248b6","#4e60c2","#4a78cc","#4a94d8","#48aee0","#4abcd8","#4cc8c4","#46c6a4","#3cc080","#30b85c","#28b040","#30b22c","#40b420","#80c410","#c0d000","#e8cc00","#f8b400","#f88c08","#f06414","#e43c18","#d8201e","#e05a56","#f09c8c","#f8c8aa"],"interpolate":"rgb"},"legend":{"values":[5,10,15,20],"title":"T [°C]"}}}},
{"data":{"name":"isoH"},"transform":[{"filter":"datum.T >= 4"}],"mark":{"type":"area","orient":"horizontal","opacity":1},"encoding":{"x2":{"datum":35},"color":{"field":"T","type":"quantitative","scale":{"domain":[2.5,3.25,3.75,4.25,4.75,5.25,5.75,6.25,6.75,7.25,7.75,8.25,8.75,9.25,9.75,10.25,10.75,11.25,11.75,12.75,13.75,14.75,15.75,16.75,17.75,18.75,19.75,20.75,21.75,22.5],"range":["#b070d8","#8e40c6","#7a2cbc","#6a24b2","#5e26aa","#583aae","#5248b6","#4e60c2","#4a78cc","#4a94d8","#48aee0","#4abcd8","#4cc8c4","#46c6a4","#3cc080","#30b85c","#28b040","#30b22c","#40b420","#80c410","#c0d000","#e8cc00","#f8b400","#f88c08","#f06414","#e43c18","#d8201e","#e05a56","#f09c8c","#f8c8aa"],"interpolate":"rgb"},"legend":{"values":[5,10,15,20],"title":"T [°C]"}}}},
{"data":{"name":"isoH"},"transform":[{"filter":"datum.T % 2 == 0 && datum.T >= 4"}],"mark":{"type":"line","color":"#1a1a1a","strokeWidth":0.8,"opacity":0.8,"strokeDash":[5,2]},"encoding":{"detail":{"field":"T","type":"nominal"},"order":{"field":"d","type":"quantitative"}}},
{"data":{"name":"labH"},"mark":{"type":"text","fontSize":10,"fontWeight":"bold","fontStyle":"italic","color":"#111","angle":300},"encoding":{"text":{"field":"T","type":"quantitative"}}},
{"data":{"name":"ann"},"transform":[{"filter":"datum.p=='H' && datum.k=='g'"}],"mark":{"type":"rule","color":"#222","strokeWidth":0.9},"encoding":{"x2":{"field":"x2"},"y2":{"field":"d2"}}},
{"data":{"name":"ann"},"transform":[{"filter":"datum.p=='H' && datum.k=='w'"}],"mark":{"type":"rule","color":"#ffffff","strokeWidth":3.5,"strokeDash":[3.5,3.5]},"encoding":{"x2":{"field":"x2"},"y2":{"field":"d2"}}},
{"data":{"name":"ann"},"transform":[{"filter":"datum.p=='H' && datum.k=='a'"}],"mark":{"type":"rule","color":"#ffffff","strokeWidth":4},"encoding":{"x2":{"field":"x2"},"y2":{"field":"d2"}}},
{"data":{"name":"ann"},"transform":[{"filter":"datum.p=='H' && datum.k=='h'"}],"mark":{"type":"point","filled":false,"color":"#ffffff","strokeWidth":4,"size":100,"opacity":1},"encoding":{"shape":{"field":"s","type":"nominal","scale":{"domain":["up","down"],"range":["M -1.6 4.2 L 0 0 L 1.6 4.2","M -1.6 -4.2 L 0 0 L 1.6 -4.2"]},"legend":null}}},
{"data":{"name":"ann"},"transform":[{"filter":"datum.p=='H' && datum.k=='b'"}],"mark":{"type":"rect","fill":"#ebebeb","stroke":"#cdb0e4","strokeWidth":1.2},"encoding":{"x2":{"field":"x2"},"y2":{"field":"d2"}}},
{"data":{"name":"ann"},"transform":[{"filter":"datum.p=='H' && datum.k=='ia'"}],"mark":{"type":"rule","color":"#222","strokeWidth":2},"encoding":{"x2":{"field":"x2"},"y2":{"field":"d2"}}},
{"data":{"name":"ann"},"transform":[{"filter":"datum.p=='H' && datum.k=='pr'"}],"mark":{"type":"line","color":"#222","strokeWidth":2},"encoding":{"order":{"field":"d","type":"quantitative"}}},
{"data":{"name":"ann"},"transform":[{"filter":"datum.p=='H' && datum.k=='it'"}],"mark":{"type":"text","fontSize":15.5,"color":"#333"},"encoding":{"text":{"field":"s"}}},
{"data":{"name":"ann"},"transform":[{"filter":"datum.p=='H' && datum.k=='id'"}],"mark":{"type":"text","fontSize":18,"color":"#333","angle":270},"encoding":{"text":{"field":"s"}}},
{"data":{"name":"ann"},"transform":[{"filter":"datum.p=='H' && datum.k=='sp'"}],"mark":{"type":"text","fontSize":25,"fontWeight":"bold","fontStyle":"italic","color":"#ffffff","align":"left"},"encoding":{"text":{"field":"s"}}},
{"data":{"name":"ann"},"transform":[{"filter":"datum.p=='H' && datum.k=='so'"}],"mark":{"type":"text","fontSize":24.5,"fontWeight":"bold","color":"#ffffff"},"encoding":{"text":{"field":"s"}}},
{"data":{"name":"ann"},"transform":[{"filter":"datum.p=='H' && datum.k=='si'"}],"mark":{"type":"text","fontSize":25,"fontWeight":"bold","color":"#f7f7ee"},"encoding":{"text":{"field":"s"}}},
{"data":{"name":"ann"},"transform":[{"filter":"datum.p=='H' && datum.k=='dv'"}],"mark":{"type":"text","fontSize":10.5,"fontWeight":"bold","fontStyle":"italic","color":"#222","angle":270,"baseline":"top","dy":2},"encoding":{"text":{"field":"s"}}},
{"data":{"name":"ann"},"transform":[{"filter":"datum.p=='H' && datum.k=='f'"}],"mark":{"type":"rule","color":"#111","strokeWidth":1.6},"encoding":{"x2":{"field":"x2"},"y2":{"field":"d2"}}}
]
},
{
"width":586,"height":415,
"encoding":{
"x":{"field":"x","type":"quantitative","scale":{"domain":[35,50],"nice":false,"zero":false},"axis":{"values":[35,37.5,40,42.5,45,47.5,50],"labelExpr":"datum.value % 5 == 0 ? datum.value + '°N' : ''","title":null,"labelFlush":false,"labelOverlap":false}},
"y":{"field":"d","type":"quantitative","scale":{"domain":[0,200],"reverse":true,"nice":false,"zero":false},"axis":{"values":[0,25,50,75,100,125,150,175,200],"labelExpr":"datum.value % 50 == 0 ? datum.label : ''","title":"depth [m]","labelOverlap":false}}
},
"layer":[
{"data":{"name":"isoM"},"transform":[{"filter":"datum.T < 4"}],"mark":{"type":"area","orient":"horizontal","opacity":1},"encoding":{"x2":{"datum":35},"color":{"field":"T","type":"quantitative","scale":{"domain":[2.5,3.25,3.75,4.25,4.75,5.25,5.75,6.25,6.75,7.25,7.75,8.25,8.75,9.25,9.75,10.25,10.75,11.25,11.75,12.75,13.75,14.75,15.75,16.75,17.75,18.75,19.75,20.75,21.75,22.5],"range":["#b070d8","#8e40c6","#7a2cbc","#6a24b2","#5e26aa","#583aae","#5248b6","#4e60c2","#4a78cc","#4a94d8","#48aee0","#4abcd8","#4cc8c4","#46c6a4","#3cc080","#30b85c","#28b040","#30b22c","#40b420","#80c410","#c0d000","#e8cc00","#f8b400","#f88c08","#f06414","#e43c18","#d8201e","#e05a56","#f09c8c","#f8c8aa"],"interpolate":"rgb"},"legend":{"values":[5,10,15,20],"title":"T [°C]"}}}},
{"data":{"name":"isoM"},"transform":[{"filter":"datum.T >= 4"}],"mark":{"type":"area","orient":"horizontal","opacity":1},"encoding":{"x2":{"datum":35},"color":{"field":"T","type":"quantitative","scale":{"domain":[2.5,3.25,3.75,4.25,4.75,5.25,5.75,6.25,6.75,7.25,7.75,8.25,8.75,9.25,9.75,10.25,10.75,11.25,11.75,12.75,13.75,14.75,15.75,16.75,17.75,18.75,19.75,20.75,21.75,22.5],"range":["#b070d8","#8e40c6","#7a2cbc","#6a24b2","#5e26aa","#583aae","#5248b6","#4e60c2","#4a78cc","#4a94d8","#48aee0","#4abcd8","#4cc8c4","#46c6a4","#3cc080","#30b85c","#28b040","#30b22c","#40b420","#80c410","#c0d000","#e8cc00","#f8b400","#f88c08","#f06414","#e43c18","#d8201e","#e05a56","#f09c8c","#f8c8aa"],"interpolate":"rgb"},"legend":{"values":[5,10,15,20],"title":"T [°C]"}}}},
{"data":{"name":"isoM"},"transform":[{"filter":"datum.T % 2 == 0 && datum.T >= 4"}],"mark":{"type":"line","color":"#1a1a1a","strokeWidth":0.8,"opacity":0.8,"strokeDash":[5,2]},"encoding":{"detail":{"field":"T","type":"nominal"},"order":{"field":"d","type":"quantitative"}}},
{"data":{"name":"labM"},"transform":[{"filter":"datum.T >= 14"}],"mark":{"type":"text","fontSize":10,"fontWeight":"bold","fontStyle":"italic","color":"#111","angle":300},"encoding":{"text":{"field":"T","type":"quantitative"}}},
{"data":{"name":"labM"},"transform":[{"filter":"datum.T < 14"}],"mark":{"type":"text","fontSize":10,"fontWeight":"bold","fontStyle":"italic","color":"#111","angle":345},"encoding":{"text":{"field":"T","type":"quantitative"}}},
{"data":{"name":"ann"},"transform":[{"filter":"datum.p=='M' && datum.k=='g'"}],"mark":{"type":"rule","color":"#222","strokeWidth":0.9},"encoding":{"x2":{"field":"x2"},"y2":{"field":"d2"}}},
{"data":{"name":"ann"},"transform":[{"filter":"datum.p=='M' && datum.k=='w'"}],"mark":{"type":"rule","color":"#ffffff","strokeWidth":3.5,"strokeDash":[3.5,3.5]},"encoding":{"x2":{"field":"x2"},"y2":{"field":"d2"}}},
{"data":{"name":"ann"},"transform":[{"filter":"datum.p=='M' && datum.k=='a'"}],"mark":{"type":"rule","color":"#ffffff","strokeWidth":4},"encoding":{"x2":{"field":"x2"},"y2":{"field":"d2"}}},
{"data":{"name":"ann"},"transform":[{"filter":"datum.p=='M' && datum.k=='h'"}],"mark":{"type":"point","filled":false,"color":"#ffffff","strokeWidth":4,"size":100,"opacity":1},"encoding":{"shape":{"field":"s","type":"nominal","scale":{"domain":["up","down"],"range":["M -1.6 4.2 L 0 0 L 1.6 4.2","M -1.6 -4.2 L 0 0 L 1.6 -4.2"]},"legend":null}}},
{"data":{"name":"ann"},"transform":[{"filter":"datum.p=='M' && datum.k=='b'"}],"mark":{"type":"rect","fill":"#ebebeb","stroke":"#cdb0e4","strokeWidth":1.2},"encoding":{"x2":{"field":"x2"},"y2":{"field":"d2"}}},
{"data":{"name":"ann"},"transform":[{"filter":"datum.p=='M' && datum.k=='ia'"}],"mark":{"type":"rule","color":"#222","strokeWidth":2},"encoding":{"x2":{"field":"x2"},"y2":{"field":"d2"}}},
{"data":{"name":"ann"},"transform":[{"filter":"datum.p=='M' && datum.k=='pr'"}],"mark":{"type":"line","color":"#222","strokeWidth":2},"encoding":{"order":{"field":"d","type":"quantitative"}}},
{"data":{"name":"ann"},"transform":[{"filter":"datum.p=='M' && datum.k=='it'"}],"mark":{"type":"text","fontSize":15.5,"color":"#333"},"encoding":{"text":{"field":"s"}}},
{"data":{"name":"ann"},"transform":[{"filter":"datum.p=='M' && datum.k=='id'"}],"mark":{"type":"text","fontSize":18,"color":"#333","angle":270},"encoding":{"text":{"field":"s"}}},
{"data":{"name":"ann"},"transform":[{"filter":"datum.p=='M' && datum.k=='sp'"}],"mark":{"type":"text","fontSize":25,"fontWeight":"bold","fontStyle":"italic","color":"#ffffff","align":"left"},"encoding":{"text":{"field":"s"}}},
{"data":{"name":"ann"},"transform":[{"filter":"datum.p=='M' && datum.k=='so'"}],"mark":{"type":"text","fontSize":24.5,"fontWeight":"bold","color":"#ffffff"},"encoding":{"text":{"field":"s"}}},
{"data":{"name":"ann"},"transform":[{"filter":"datum.p=='M' && datum.k=='si'"}],"mark":{"type":"text","fontSize":25,"fontWeight":"bold","color":"#f7f7ee"},"encoding":{"text":{"field":"s"}}},
{"data":{"name":"ann"},"transform":[{"filter":"datum.p=='M' && datum.k=='dv'"}],"mark":{"type":"text","fontSize":10.5,"fontWeight":"bold","fontStyle":"italic","color":"#222","angle":270,"baseline":"top","dy":2},"encoding":{"text":{"field":"s"}}},
{"data":{"name":"ann"},"transform":[{"filter":"datum.p=='M' && datum.k=='f'"}],"mark":{"type":"rule","color":"#111","strokeWidth":1.6},"encoding":{"x2":{"field":"x2"},"y2":{"field":"d2"}}}
]
}
]
}
